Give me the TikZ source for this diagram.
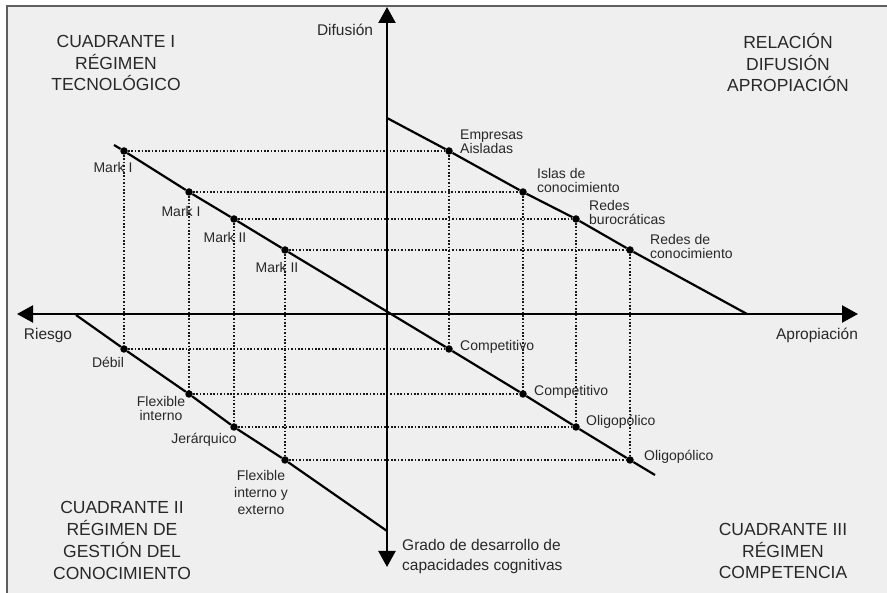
\documentclass[tikz,border=0pt]{standalone}
\usepackage{fontspec}
\setmainfont{Liberation Sans}
\usetikzlibrary{arrows.meta}
\definecolor{bgc}{RGB}{239,239,239}
\definecolor{framec}{RGB}{95,95,95}
\definecolor{txt}{RGB}{40,40,40}
\begin{document}
\begin{tikzpicture}[x=1pt,y=-1pt,
  axis/.style={line width=2.2pt, {Triangle[length=16pt,width=17pt]}-{Triangle[length=16pt,width=17pt]}},
  diag/.style={line width=2.2pt},
  guide/.style={line width=1.7pt, dash pattern=on 1.7pt off 1.7pt, black!90},
  pt/.style={circle, fill=black, inner sep=0pt, minimum size=7.5pt},
  lbl/.style={font=\fontsize{14}{14}\selectfont, text=txt, inner sep=0pt, align=left},
  axlbl/.style={font=\fontsize{15.5}{20}\selectfont, text=txt, inner sep=0pt, align=left},
  qtitle/.style={font=\fontsize{17.5}{21.5}\selectfont, text=txt, inner sep=0pt, align=center}]
\useasboundingbox (0,0) rectangle (887,593);
\fill[bgc] (7,6) rectangle (887,593);
\draw[framec, line width=2pt] (7,593) -- (7,6) -- (887,6);

% points
\node[pt] (L1) at (124,151) {};
\node[pt] (L2) at (189,192) {};
\node[pt] (L3) at (234,219) {};
\node[pt] (L4) at (285,250) {};
\node[pt] (R1) at (449,151) {};
\node[pt] (R2) at (523,192) {};
\node[pt] (R3) at (576,219) {};
\node[pt] (R4) at (630,250) {};
\node[pt] (D1) at (124,349) {};
\node[pt] (D2) at (189,394) {};
\node[pt] (D3) at (234,427) {};
\node[pt] (D4) at (285,460) {};
\node[pt] (C1) at (449,349) {};
\node[pt] (C2) at (523,394) {};
\node[pt] (C3) at (576,427) {};
\node[pt] (C4) at (630,460) {};

% line ends and axis ends
\coordinate (m0) at (114,145);
\coordinate (m9) at (655,475);
\coordinate (u0) at (387,118);
\coordinate (u9) at (747,314);
\coordinate (d0) at (76,315);
\coordinate (d9) at (387,531);
\coordinate (ytop) at (387,7);
\coordinate (ybot) at (387,567);
\coordinate (xlft) at (17,314);
\coordinate (xrgt) at (858,314);

% dotted guides
\foreach \i in {1,2,3,4}{
  \draw[guide] (L\i) -- (R\i);
  \draw[guide] (L\i) -- (D\i);
  \draw[guide] (D\i) -- (C\i);
  \draw[guide] (R\i) -- (C\i);
}

% axes
\draw[axis] (ybot) -- (ytop);
\draw[axis] (xlft) -- (xrgt);

% diagonals
\draw[diag] (m0) -- (L1) -- (L2) -- (L3) -- (L4) -- (C1) -- (C2) -- (C3) -- (C4) -- (m9);
\draw[diag] (u0) -- (R1) -- (R2) -- (R3) -- (R4) -- (u9);
\draw[diag] (d0) -- (D1) -- (D2) -- (D3) -- (D4) -- (d9);

% point labels
\node[lbl, anchor=west] (tEA) at (460,141.5) {Empresas\\Aisladas};
\node[lbl, anchor=west] (tIC) at (537,180) {Islas de\\conocimiento};
\node[lbl, anchor=west] (tRB) at (589,212.5) {Redes\\burocráticas};
\node[lbl, anchor=west] (tRC) at (650,246.5) {Redes de\\conocimiento};
\node[lbl] (tM1) at (113,167) {Mark I};
\node[lbl] (tM2) at (181,211) {Mark I};
\node[lbl] (tM3) at (225,237) {Mark II};
\node[lbl] (tM4) at (277,267) {Mark II};
\node[lbl] (tDe) at (108,362) {Débil};
\node[lbl, align=center] (tFI) at (161,408) {Flexible\\interno};
\node[lbl] (tJe) at (204,440) {Jerárquico};
\node[lbl, align=center, font=\fontsize{14}{17}\selectfont] (tFE) at (261,492) {Flexible\\interno y\\externo};
\node[lbl, anchor=west] (tC1) at (460,347) {Competitivo};
\node[lbl, anchor=west] (tC2) at (534,392) {Competitivo};
\node[lbl, anchor=west] (tO1) at (586,422) {Oligopólico};
\node[lbl, anchor=west] (tO2) at (644,457) {Oligopólico};

% axis labels
\node[axlbl] (aD) at (345,30) {Difusión};
\node[axlbl] (aR) at (48,335) {Riesgo};
\node[axlbl] (aA) at (817,335) {Apropiación};
\node[axlbl, anchor=west] (aG) at (402,556.5) {Grado de desarrollo de\\capacidades cognitivas};

% quadrant titles
\node[qtitle] (q1) at (116,63) {CUADRANTE I\\RÉGIMEN\\TECNOLÓGICO};
\node[qtitle] (q0) at (788,63) {RELACIÓN\\DIFUSIÓN\\APROPIACIÓN};
\node[qtitle, font=\fontsize{17.5}{22}\selectfont] (q2) at (122,540) {CUADRANTE II\\RÉGIMEN DE\\GESTIÓN DEL\\CONOCIMIENTO};
\node[qtitle] (q3) at (783,551) {CUADRANTE III\\RÉGIMEN\\COMPETENCIA};
\end{tikzpicture}
\end{document}
